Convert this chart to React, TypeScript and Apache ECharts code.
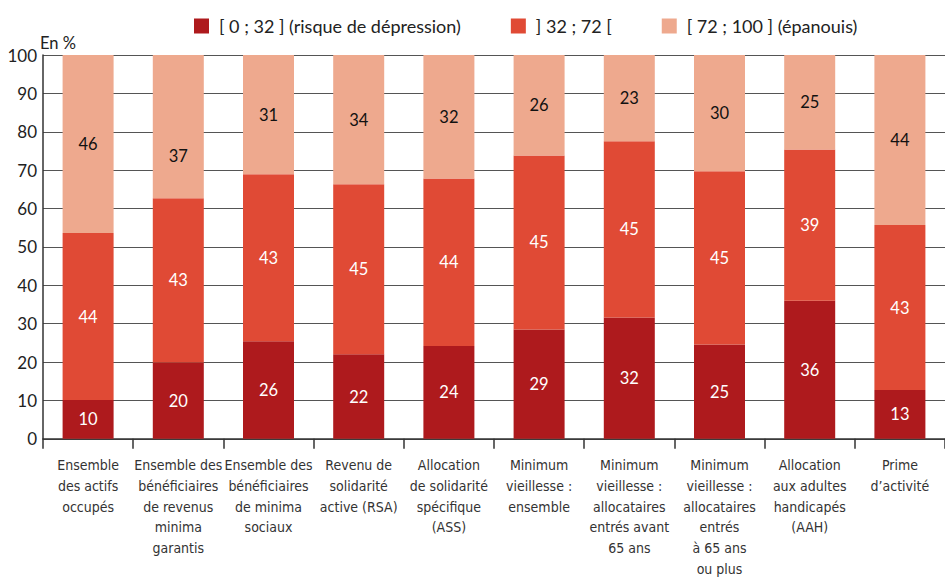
import React, { useEffect, useRef } from "react";
import * as echarts from "echarts";

const categories = [
  "Ensemble\ndes actifs\noccupés",
  "Ensemble des\nbénéficiaires\nde revenus\nminima\ngarantis",
  "Ensemble des\nbénéficiaires\nde minima\nsociaux",
  "Revenu de\nsolidarité\nactive (RSA)",
  "Allocation\nde solidarité\nspécifique\n(ASS)",
  "Minimum\nvieillesse :\nensemble",
  "Minimum\nvieillesse :\nallocataires\nentrés avant\n65 ans",
  "Minimum\nvieillesse :\nallocataires\nentrés\nà 65 ans\nou plus",
  "Allocation\naux adultes\nhandicapés\n(AAH)",
  "Prime\nd’activité",
];

const seriesNames = [
  "[ 0 ; 32 ] (risque de dépression)",
  "] 32 ; 72 [",
  "[ 72 ; 100 ] (épanouis)",
];

// bar segment heights (in %)
const lowValues = [10.1, 19.9, 25.4, 22.0, 24.2, 28.5, 31.6, 24.6, 36.0, 12.7];
const midValues = [43.5, 42.8, 43.5, 44.3, 43.6, 45.3, 45.9, 45.1, 39.4, 43.0];
const highValues = [46.4, 37.3, 31.1, 33.7, 32.2, 26.2, 22.5, 30.3, 24.6, 44.3];

// published (rounded) labels
const lowLabels = [10, 20, 26, 22, 24, 29, 32, 25, 36, 13];
const midLabels = [44, 43, 43, 45, 44, 45, 45, 45, 39, 43];
const highLabels = [46, 37, 31, 34, 32, 26, 23, 30, 25, 44];

const yTicks = [0, 10, 20, 30, 40, 50, 60, 70, 80, 90, 100];

const colors = ["#AE1A1D", "#E04A35", "#EEA98E"];
const FONT = "Lato, 'Noto Sans', sans-serif";
const NARROW = "'Liberation Sans Narrow', 'DejaVu Sans Condensed', 'Open Sans', sans-serif";

export default function App() {
  const ref = useRef<HTMLDivElement>(null);
  useEffect(() => {
    document.body.style.margin = "0";
    if (!ref.current) return;
    const chart = echarts.init(ref.current, undefined, { renderer: "svg" });
    const mk = (
      name: string,
      values: number[],
      labels: number[],
      color: string,
      labelColor: string,
      offsets?: Record<number, number>
    ) => ({
      name,
      type: "bar",
      stack: "total",
      barWidth: 51,
      itemStyle: { color },
      data: values.map((v, i) => {
        const item: any = { value: v };
        if (offsets && offsets[i] !== undefined) {
          item.label = { offset: [0, offsets[i]] };
        }
        return item;
      }),
      label: {
        show: true,
        position: "inside",
        color: labelColor,
        fontSize: 16.5,
        fontFamily: FONT,
        formatter: (p: any) => String(labels[p.dataIndex]),
      },
    });
    chart.setOption({
      animation: false,
      legend: {
        top: 12,
        left: 189,
        itemWidth: 15,
        itemHeight: 15,
        itemGap: 50,
        icon: "rect",
        textStyle: { fontSize: 18, color: "#222", fontFamily: FONT, padding: [0, 0, 0, 5] },
        data: seriesNames,
      },
      graphic: [
        {
          type: "text",
          left: 40,
          top: 34,
          style: { text: "En %", fontSize: 16.5, fill: "#222", fontFamily: FONT },
        },
      ],
      grid: { left: 43, right: 0, top: 55, bottom: 138 },
      xAxis: {
        type: "category",
        data: categories,
        axisLine: { lineStyle: { color: "#333", width: 1.5 } },
        axisTick: { show: true, length: 10, lineStyle: { color: "#333", width: 1.5 } },
        axisLabel: {
          interval: 0,
          fontSize: 14,
          lineHeight: 20.7,
          margin: 16,
          color: "#333",
          fontFamily: NARROW,
        },
      },
      yAxis: {
        type: "value",
        min: yTicks[0],
        max: yTicks[yTicks.length - 1],
        interval: 10,
        axisLine: { show: true, lineStyle: { color: "#333", width: 1.5 } },
        axisTick: { show: false },
        axisLabel: { fontSize: 17, color: "#222", margin: 6, fontFamily: FONT },
        splitLine: { lineStyle: { color: "#555", width: 1 } },
      },
      series: [
        mk(seriesNames[0], lowValues, lowLabels, colors[0], "#fff"),
        mk(seriesNames[1], midValues, midLabels, colors[1], "#fff"),
        mk(seriesNames[2], highValues, highLabels, colors[2], "#111", { 1: 29 }),
      ],
    });
    return () => chart.dispose();
  }, []);
  return <div ref={ref} style={{ width: 945, height: 579 }} />;
}
